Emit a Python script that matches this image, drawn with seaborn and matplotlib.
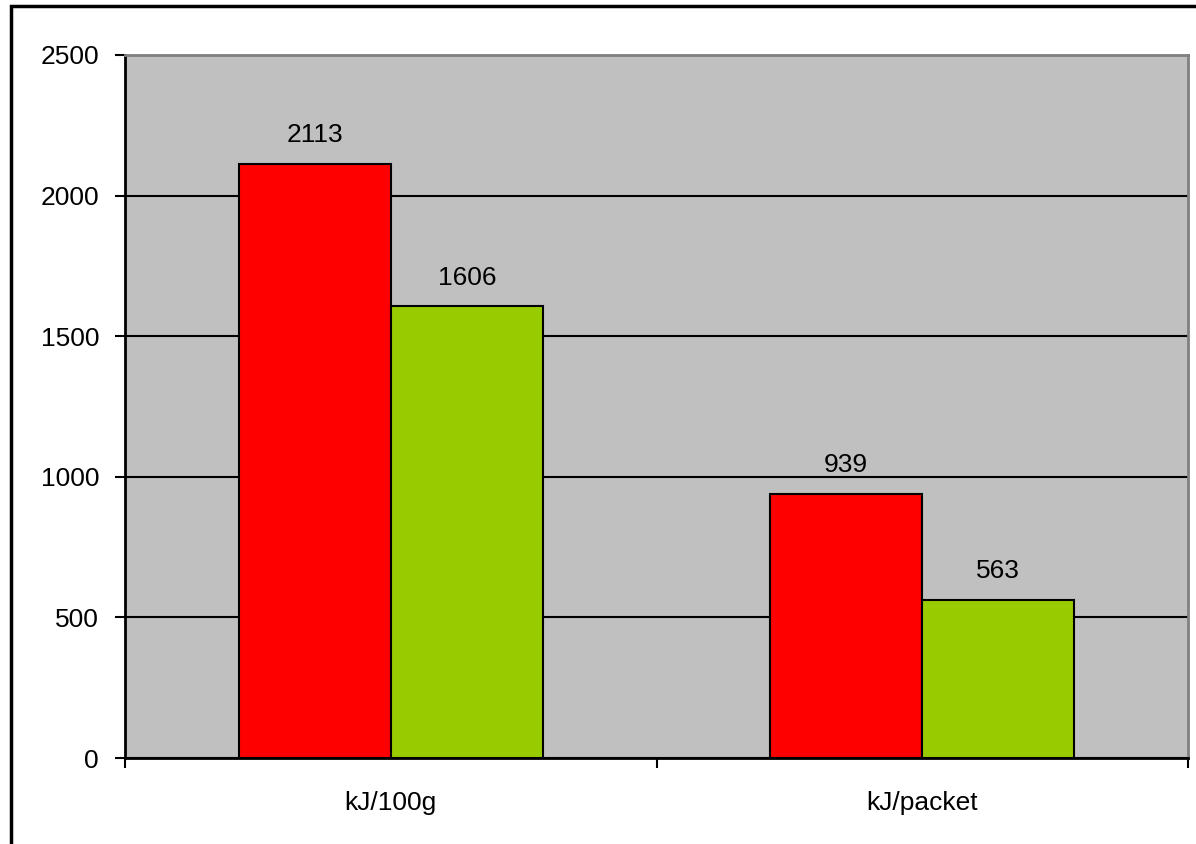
import matplotlib
matplotlib.use("Agg")
import matplotlib.pyplot as plt
import seaborn as sns
import pandas as pd
from matplotlib.patches import Rectangle

categories = ["kJ/100g", "kJ/packet"]
series_names = ["Product A", "Product B"]
series_a = [2113, 939]
series_b = [1606, 563]
y_ticks = [0, 500, 1000, 1500, 2000, 2500]

df = pd.DataFrame({
    "category": categories * 2,
    "series": [series_names[0]] * 2 + [series_names[1]] * 2,
    "value": series_a + series_b,
})

sns.set_style("white")
plt.rcParams["font.family"] = ["Liberation Sans", "DejaVu Sans"]
plt.rcParams["text.color"] = "black"
plt.rcParams["xtick.color"] = "black"
plt.rcParams["ytick.color"] = "black"

fig = plt.figure(figsize=(11.96, 8.44), dpi=100)
ax = fig.add_axes([125 / 1196, 1 - 758 / 844, (1188 - 125) / 1196, (758 - 55) / 844])

# outer chart border (runs off the right and bottom edges)
fig.patches.append(Rectangle((11 / 1196, -0.05), 1.2, 1 - 6 / 844 + 0.05,
                             transform=fig.transFigure, fill=False,
                             edgecolor="black", lw=2.5, zorder=10))

ax.set_facecolor("#C0C0C0")
sns.barplot(data=df, x="category", y="value", hue="series",
            palette=["#FF0000", "#99CC00"], width=0.5725,
            edgecolor="black", linewidth=1.5, saturation=1, ax=ax, zorder=3)

for cont in ax.containers:
    ax.bar_label(cont, fmt="%d", padding=12, fontsize=19, color="black")

ax.set_ylim(0, 2500)
ax.set_xlim(-0.5, 1.5)
ax.set_yticks(y_ticks)
ax.yaxis.grid(True, color="black", lw=1.5, zorder=1)
ax.set_axisbelow(True)

ax.set_xticks([0, 1])
ax.set_xticklabels(categories)
ax.set_xticks([-0.5, 0.5, 1.5], minor=True)
ax.tick_params(axis="x", which="major", length=0, pad=24, labelsize=19)
ax.tick_params(axis="x", which="minor", length=7.2, width=1.5, color="black",
               direction="out", bottom=True)
ax.tick_params(axis="y", length=7.2, width=1.5, color="black", direction="out",
               left=True, pad=11.5, labelsize=19)

ax.set_xlabel("")
ax.set_ylabel("")
if ax.get_legend() is not None:
    ax.get_legend().remove()

for side in ["left", "bottom"]:
    ax.spines[side].set_color("black")
    ax.spines[side].set_linewidth(2)
for side in ["top", "right"]:
    ax.spines[side].set_color("#808080")
    ax.spines[side].set_linewidth(2)
    ax.spines[side].set_visible(True)

fig.savefig("out.png", dpi=100)
